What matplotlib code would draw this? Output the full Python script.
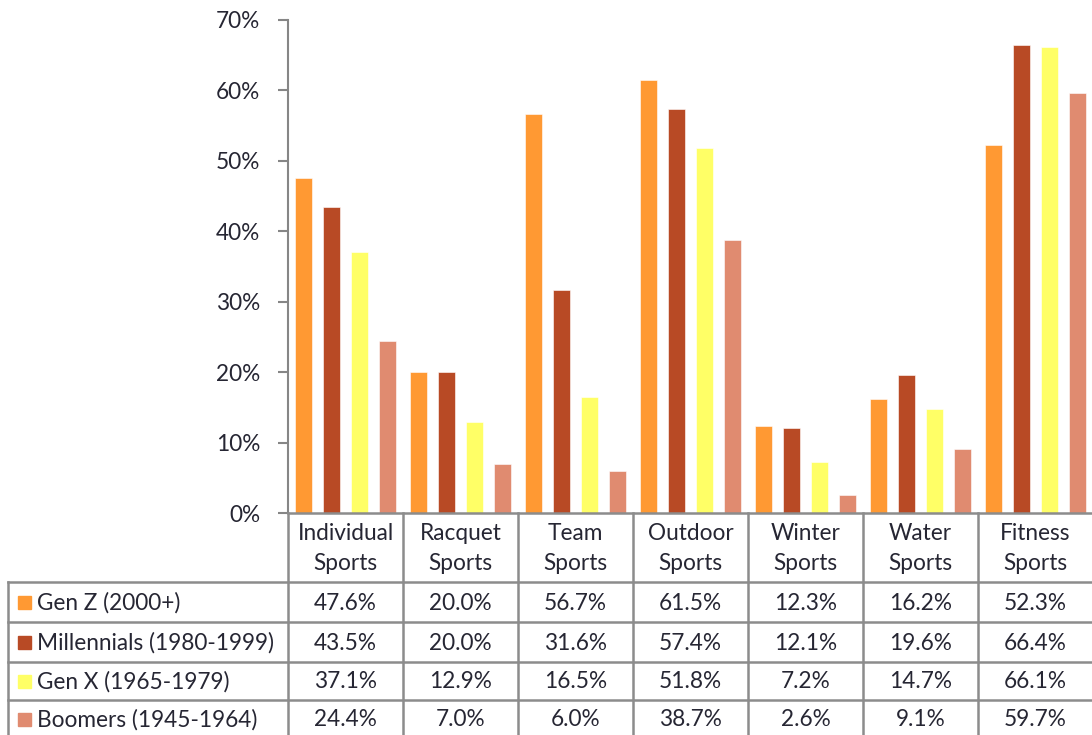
import numpy as np
import matplotlib.pyplot as plt
from matplotlib.ticker import PercentFormatter

categories = ["Individual\nSports", "Racquet\nSports", "Team\nSports", "Outdoor\nSports",
              "Winter\nSports", "Water\nSports", "Fitness\nSports"]
series = ["Gen Z (2000+)", "Millennials (1980-1999)", "Gen X (1965-1979)", "Boomers (1945-1964)"]
gen_z = [47.6, 20.0, 56.7, 61.5, 12.3, 16.2, 52.3]
millennials = [43.5, 20.0, 31.6, 57.4, 12.1, 19.6, 66.4]
gen_x = [37.1, 12.9, 16.5, 51.8, 7.2, 14.7, 66.1]
boomers = [24.4, 7.0, 6.0, 38.7, 2.6, 9.1, 59.7]
colors = ["#FF9933", "#B84A25", "#FFFF66", "#E08B70"]

values = [gen_z, millennials, gen_x, boomers]

W, H = 1092, 735
plt.rcParams['font.family'] = ['Lato', 'DejaVu Sans']
fs = 16.3
txt = '#262633'
fig = plt.figure(figsize=(W / 100, H / 100), dpi=100)

# chart area in pixel terms
x0, x1 = 288, 1093
y_top, y_zero = 20, 513
ax = fig.add_axes([x0 / W, (H - y_zero) / H, (x1 - x0) / W, (y_zero - y_top) / H])

n = len(categories)
x = np.arange(n)
offsets = [-0.365, -0.122, 0.122, 0.365]
for vals, off, c in zip(values, offsets, colors):
    ax.bar(x + off, vals, width=0.155, color=c, edgecolor='white', linewidth=0.4)

ax.set_xlim(-0.5, n - 0.5)
ax.set_ylim(0, 70)
ax.set_yticks(np.arange(0, 71, 10))
ax.yaxis.set_major_formatter(PercentFormatter(decimals=0))
ax.tick_params(axis='y', length=7, width=1.5, color='#868686', pad=13, labelsize=fs,
               labelcolor=txt)
ax.set_xticks([])
for s in ['top', 'right', 'bottom']:
    ax.spines[s].set_visible(False)
ax.spines['left'].set_color('#868686')
ax.spines['left'].set_linewidth(1.5)

# data table drawn in pixel coordinates
tb = fig.add_axes([0, 0, 1, 1], facecolor='none')
tb.set_xlim(0, W)
tb.set_ylim(H, 0)
tb.axis('off')

grid = '#8c8c8c'
lw = 1.8
col_w = (x1 - x0) / n
col_edges = [x0 + i * col_w for i in range(n + 1)]
row_edges = [582, 622, 662, 700, 738]
left = 8

tb.plot([x0, x1], [y_zero, y_zero], color=grid, lw=lw, clip_on=False)
for ce in col_edges:
    tb.plot([ce, ce], [y_zero, H + 5], color=grid, lw=lw, clip_on=False)
for re in row_edges:
    tb.plot([left, x1], [re, re], color=grid, lw=lw, clip_on=False)
tb.plot([left, left], [row_edges[0], H + 5], color=grid, lw=lw, clip_on=False)

for i, cat in enumerate(categories):
    cx = col_edges[i] + col_w / 2
    tb.text(cx, (y_zero + row_edges[0]) / 2 + 1, cat, ha='center', va='center',
            fontsize=fs, color=txt, linespacing=1.55)

for r, (name, vals, c) in enumerate(zip(series, values, colors)):
    cy = (row_edges[r] + row_edges[r + 1]) / 2 + 1
    tb.add_patch(plt.Rectangle((18, cy - 7), 13, 13, color=c))
    tb.text(37, cy, name, ha='left', va='center', fontsize=fs, color=txt)
    for i, v in enumerate(vals):
        cx = col_edges[i] + col_w / 2
        tb.text(cx, cy, f"{v:.1f}%", ha='center', va='center', fontsize=fs, color=txt)

fig.savefig("out.png", dpi=100)
